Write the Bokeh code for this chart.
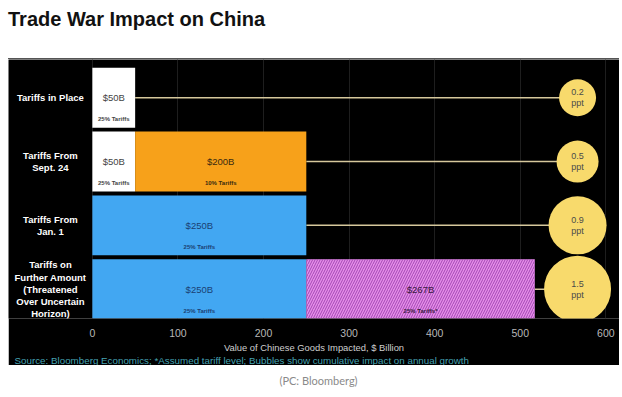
from bokeh.plotting import figure
from bokeh.models import Div, FixedTicker, Title, ColumnDataSource, Range1d
from bokeh.layouts import column
from bokeh.core.properties import value
from bokeh.embed import file_html
from bokeh.resources import INLINE

# ---- data ----
rows = ["Tariffs in Place", "Tariffs From\nSept. 24", "Tariffs From\nJan. 1",
        "Tariffs on\nFurther Amount\n(Threatened\nOver Uncertain\nHorizon)"]
seg_row = [0, 1, 1, 2, 3, 3]
seg_start = [0, 0, 50, 0, 0, 250]
seg_value = [50, 50, 200, 250, 250, 267]
seg_label = ["$50B", "$50B", "$200B", "$250B", "$250B", "$267B"]
seg_tariff = ["25% Tariffs", "25% Tariffs", "10% Tariffs", "25% Tariffs", "25% Tariffs", "25% Tariffs*"]
row_total = [50, 250, 250, 517]
impact = [0.2, 0.5, 0.9, 1.5]
impact_label = ["0.2\nppt", "0.5\nppt", "0.9\nppt", "1.5\nppt"]
x_ticks = [0, 100, 200, 300, 400, 500, 600]
bubble_x = 567

# ---- styles ----
seg_fill = ["#ffffff", "#ffffff", "#f7a11a", "#42a7f2", "#42a7f2", "#e58fe8"]
seg_text = ["#444444", "#444444", "#3a2a10", "#1b3f73", "#1b3f73", "#3a1a40"]
bubble_px = [37, 42, 58, 67]
FONT = "Liberation Sans"

n = len(rows)
ypos = [n - i for i in range(n)]  # top row highest

p = figure(width=611, height=306, output_backend="svg", toolbar_location=None,
           x_range=Range1d(-98, 616), y_range=Range1d(0.54, 4.6),
           min_border_left=0, min_border_right=0, min_border_top=0, min_border_bottom=0)
p.background_fill_color = "#000000"
p.border_fill_color = "#000000"
p.outline_line_color = None
p.yaxis.visible = False
p.ygrid.visible = False
p.xaxis.ticker = FixedTicker(ticks=x_ticks)
p.xaxis.axis_line_color = None
p.xaxis.major_tick_line_color = None
p.xaxis.minor_tick_line_color = None
p.xaxis.major_label_text_color = "#b8b8b8"
p.xaxis.major_label_text_font = FONT
p.xaxis.major_label_text_font_size = "10.5px"
p.xaxis.major_label_standoff = 4
p.xgrid.grid_line_color = "#1e1e1e"

seg_y = [ypos[r] for r in seg_row]
seg_center = [s + v / 2 for s, v in zip(seg_start, seg_value)]
seg_src = ColumnDataSource(dict(y=seg_y, left=seg_start,
                                right=[s + v for s, v in zip(seg_start, seg_value)],
                                cx=seg_center, ty=[y - 0.34 for y in seg_y],
                                label=seg_label, tariff=seg_tariff,
                                fill=seg_fill, tcol=seg_text))

# connectors
p.segment(x0=row_total, x1=[bubble_x] * n, y0=ypos, y1=ypos,
          line_color="#d6c89c", line_width=1.5)

# bars
plain = ColumnDataSource({k: v[:-1] for k, v in seg_src.data.items()})
hatched = ColumnDataSource({k: v[-1:] for k, v in seg_src.data.items()})
p.hbar(y="y", left="left", right="right", height=0.94, fill_color="fill",
       line_color=None, source=plain)
p.hbar(y="y", left="left", right="right", height=0.94, fill_color="fill",
       line_color=None, hatch_pattern="/", hatch_color="#a446b6",
       hatch_scale=5, hatch_weight=1, source=hatched)

p.text(x="cx", y="y", text="label", text_color="tcol", text_font=value(FONT),
       text_font_size="9.5px", text_align="center", text_baseline="middle", source=seg_src)
p.text(x="cx", y="ty", text="tariff", text_color="tcol", text_font=value(FONT),
       text_font_size="6px", text_font_style="bold", text_align="center",
       text_baseline="middle", source=seg_src)

# row labels
p.text(x=[-49] * n, y=ypos, text=rows, text_color="#ffffff", text_font=value(FONT),
       text_font_size="9.5px", text_font_style="bold", text_align="center",
       text_baseline="middle", text_line_height=1.1)

# bubbles
p.scatter(x=[bubble_x] * n, y=ypos, size=bubble_px, fill_color="#f8da6c",
          line_color=None)
p.text(x=[bubble_x] * n, y=ypos, text=impact_label, text_color="#4a4a4a",
       text_font=value(FONT), text_font_size="9px", text_align="center",
       text_baseline="middle", text_line_height=1.1)

p.add_layout(Title(text="Value of Chinese Goods Impacted, $ Billion", align="center",
                   offset=-28, standoff=0, text_color="#cfcfcf", text_font=FONT,
                   text_font_size="9.4px", text_font_style="normal"), "below")
p.add_layout(Title(text="Source: Bloomberg Economics; *Assumed tariff level; Bubbles show cumulative impact on annual growth",
                   align="left", offset=6, standoff=0, text_color="#45a3b3", text_font=FONT,
                   text_font_size="9.8px", text_font_style="normal"), "below")

title = Div(text="Trade War Impact on China", width=611, height=51,
            styles={"font-family": "Liberation Sans", "font-weight": "bold",
                    "font-size": "20px", "color": "#111111", "line-height": "1",
                    "margin": "0", "padding-top": "1px",
                    "border-bottom": "1px solid #555555", "box-sizing": "border-box"})
caption = Div(text="(PC: Bloomberg)", width=611, height=30,
              styles={"font-family": "Lato", "font-size": "11px", "color": "#8a8a8a",
                      "text-align": "center", "width": "611px", "padding-top": "3px",
                      "box-sizing": "border-box"})

layout = column(title, p, caption, spacing=0, margin=(8, 3, 0, 8))
open("out.html", "w").write(file_html(layout, INLINE))
